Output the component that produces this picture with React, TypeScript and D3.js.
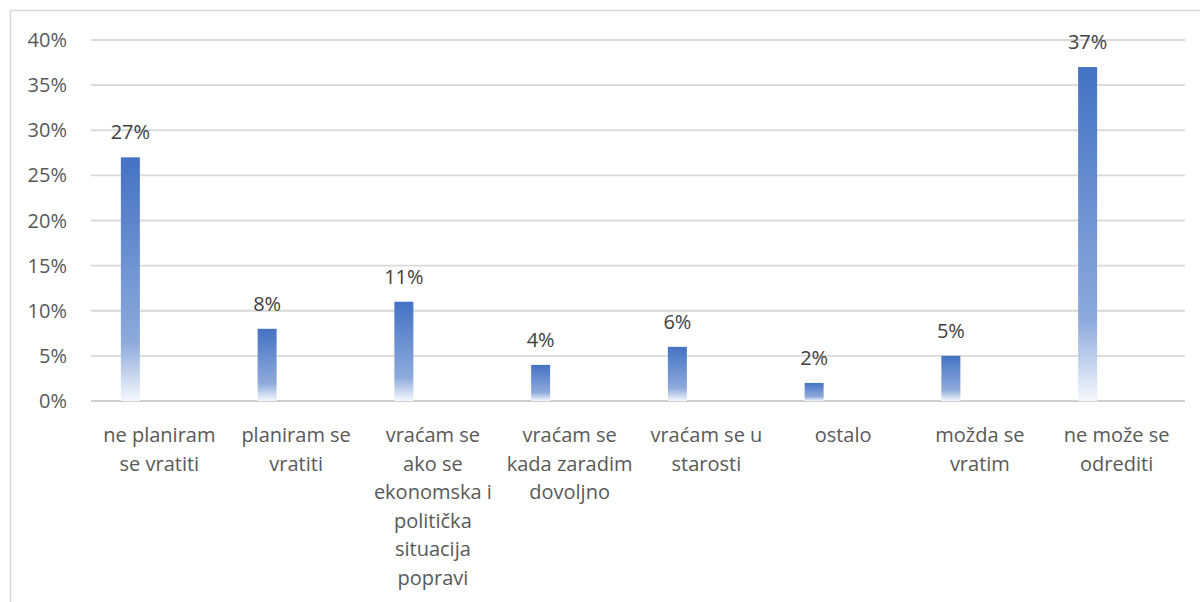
import React, { useEffect, useRef } from "react";
import * as d3 from "d3";

const categories: string[][] = [
  ["ne planiram", "se vratiti"],
  ["planiram se", "vratiti"],
  ["vraćam se", "ako se", "ekonomska i", "politička", "situacija", "popravi"],
  ["vraćam se", "kada zaradim", "dovoljno"],
  ["vraćam se u", "starosti"],
  ["ostalo"],
  ["možda se", "vratim"],
  ["ne može se", "odrediti"],
];
const values: number[] = [27, 8, 11, 4, 6, 2, 5, 37];
const yTicks: number[] = [0, 5, 10, 15, 20, 25, 30, 35, 40];

const width = 1200,
  height = 602;
const plot = { left: 91, right: 1185, top: 40, bottom: 401 };
const font = "'Open Sans', sans-serif";

export default function App() {
  const ref = useRef<SVGSVGElement>(null);

  useEffect(() => {
    const svg = d3.select(ref.current);
    svg.selectAll("*").remove();

    const x = d3
      .scaleBand<number>()
      .domain(d3.range(categories.length))
      .range([plot.left, plot.right]);
    const y = d3.scaleLinear().domain([0, 40]).range([plot.bottom, plot.top]);

    const defs = svg.append("defs");
    const grad = defs
      .append("linearGradient")
      .attr("id", "barGrad")
      .attr("x1", 0)
      .attr("y1", 0)
      .attr("x2", 0)
      .attr("y2", 1);
    grad.append("stop").attr("offset", "0%").attr("stop-color", "#4472c4");
    grad.append("stop").attr("offset", "76%").attr("stop-color", "#8eaadc");
    grad.append("stop").attr("offset", "100%").attr("stop-color", "#f5f8fd");

    // chart frame (only left and top edges visible)
    svg
      .append("rect")
      .attr("x", 10.5)
      .attr("y", 10.5)
      .attr("width", 1200)
      .attr("height", 600)
      .attr("fill", "#fff")
      .attr("stroke", "#d9d9d9")
      .attr("stroke-width", 1.5);

    // gridlines
    svg
      .append("g")
      .selectAll("line")
      .data(yTicks)
      .join("line")
      .attr("x1", plot.left)
      .attr("x2", plot.right)
      .attr("y1", (d) => y(d))
      .attr("y2", (d) => y(d))
      .attr("stroke", (d) => (d === 0 ? "#cfcfcf" : "#d9d9d9"))
      .attr("stroke-width", 1.8);

    // y tick labels
    svg
      .append("g")
      .selectAll("text")
      .data(yTicks)
      .join("text")
      .attr("x", 67)
      .attr("y", (d) => y(d) + 7)
      .attr("text-anchor", "end")
      .style("font", `20px ${font}`)
      .attr("fill", "#595959")
      .text((d) => d + "%");

    const barW = 19;
    const offset = -29;
    const cx = (i: number) => (x(i) as number) + x.bandwidth() / 2;

    // bars
    svg
      .append("g")
      .selectAll("rect")
      .data(values)
      .join("rect")
      .attr("x", (d, i) => cx(i) + offset - barW / 2)
      .attr("y", (d) => y(d))
      .attr("width", barW)
      .attr("height", (d) => y(0) - y(d))
      .attr("fill", "url(#barGrad)");

    // data labels
    svg
      .append("g")
      .selectAll("text")
      .data(values)
      .join("text")
      .attr("x", (d, i) => cx(i) + offset)
      .attr("y", (d) => y(d) - 18)
      .attr("text-anchor", "middle")
      .style("font", `20px ${font}`)
      .attr("fill", "#404040")
      .text((d) => d + "%");

    // category labels
    const cats = svg
      .append("g")
      .selectAll("text")
      .data(categories)
      .join("text")
      .attr("text-anchor", "middle")
      .style("font", `20px ${font}`)
      .attr("fill", "#595959");
    cats
      .selectAll("tspan")
      .data((d, i) => d.map((line) => ({ line, i })))
      .join("tspan")
      .attr("x", (d) => cx(d.i))
      .attr("y", (d, j) => plot.bottom + 41 + j * 28.5)
      .text((d) => d.line);
  }, []);

  return (
    <svg
      ref={ref}
      width={width}
      height={height}
      style={{ position: "absolute", left: 0, top: 0, display: "block" }}
    />
  );
}
